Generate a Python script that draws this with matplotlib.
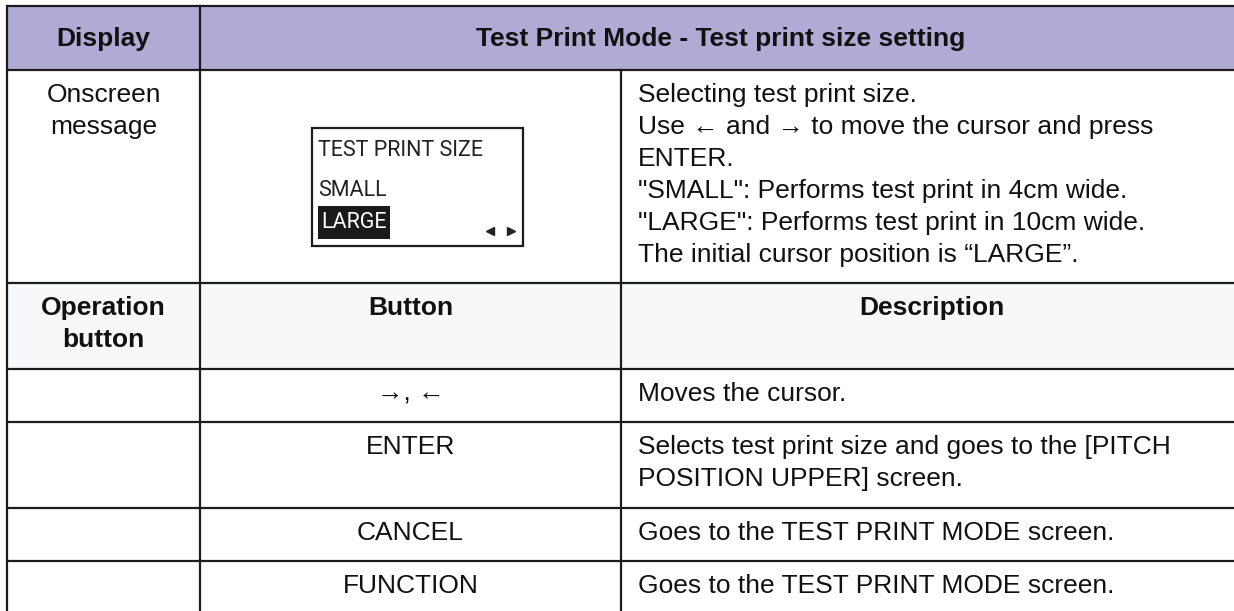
import matplotlib.pyplot as plt
from matplotlib.patches import Rectangle

# table content
header = ['Display', 'Test Print Mode - Test print size setting']
display_label = 'Onscreen\nmessage'
lcd_lines = ['TEST PRINT SIZE', 'SMALL', 'LARGE']
display_desc = ('Selecting test print size.\n'
                'Use \u2190 and \u2192 to move the cursor and press\n'
                'ENTER.\n'
                '"SMALL": Performs test print in 4cm wide.\n'
                '"LARGE": Performs test print in 10cm wide.\n'
                'The initial cursor position is \u201cLARGE\u201d.')
op_header = ['Operation\nbutton', 'Button', 'Description']
buttons = ['\u2192, \u2190', 'ENTER', 'CANCEL', 'FUNCTION']
descriptions = ['Moves the cursor.',
                'Selects test print size and goes to the [PITCH\nPOSITION UPPER] screen.',
                'Goes to the TEST PRINT MODE screen.',
                'Goes to the TEST PRINT MODE screen.']

# layout in pixels
col_x = [7, 200, 621, 1242]
row_y = [6, 70, 283, 369, 422, 508, 561, 615]
line_h = 32
first_off = 25
head_col = '#b0abd5'
sub_col = '#f7f8fa'
edge = '#1c1c1c'
fs = 19

plt.rcParams['font.family'] = ['Liberation Sans', 'DejaVu Sans']

fig = plt.figure(figsize=(12.34, 6.11), dpi=100)
ax = fig.add_axes([0, 0, 1, 1])
ax.set_xlim(0, 1234)
ax.set_ylim(611, 0)
ax.axis('off')

# backgrounds
ax.add_patch(Rectangle((col_x[0], row_y[0]), col_x[3] - col_x[0], row_y[1] - row_y[0],
                       facecolor=head_col, edgecolor='none'))
ax.add_patch(Rectangle((col_x[0], row_y[2]), col_x[3] - col_x[0], row_y[3] - row_y[2],
                       facecolor=sub_col, edgecolor='none'))

# grid lines
lw = 1.6
for y in row_y[:-1]:
    ax.plot([col_x[0], col_x[3]], [y, y], color=edge, lw=lw, solid_capstyle='butt')
ax.plot([col_x[0], col_x[0]], [row_y[0], row_y[-1]], color=edge, lw=lw)
ax.plot([col_x[1], col_x[1]], [row_y[0], row_y[-1]], color=edge, lw=lw)
ax.plot([col_x[2], col_x[2]], [row_y[1], row_y[-1]], color=edge, lw=lw)


def put(x, top, txt, ha='left', bold=False):
    for i, ln in enumerate(txt.split('\n')):
        ax.text(x, top + first_off + i * line_h, ln, ha=ha, va='center',
                fontsize=fs, fontweight='bold' if bold else 'normal', color='#111111')


# header row
ax.text((col_x[0] + col_x[1]) / 2, (row_y[0] + row_y[1]) / 2 + 1, header[0],
        ha='center', va='center', fontsize=fs, fontweight='bold', color='#111111')
ax.text((col_x[1] + col_x[3]) / 2, (row_y[0] + row_y[1]) / 2 + 1, header[1],
        ha='center', va='center', fontsize=fs, fontweight='bold', color='#111111')

# onscreen message row
put((col_x[0] + col_x[1]) / 2, row_y[1], display_label, ha='center')
put(col_x[2] + 17, row_y[1], display_desc)

# LCD mock-up
lcd_font = ['Liberation Sans Narrow', 'Roboto', 'DejaVu Sans']
lcd_fs = 15.5
ax.add_patch(Rectangle((312, 128), 211, 118, facecolor='white', edgecolor=edge, lw=1.6))
ax.text(318, 150, lcd_lines[0], ha='left', va='center', fontsize=lcd_fs,
        family=lcd_font, color='#222222')
ax.text(318, 190, lcd_lines[1], ha='left', va='center', fontsize=lcd_fs,
        family=lcd_font, color='#222222')
ax.add_patch(Rectangle((318, 206), 72, 33, facecolor='#1a1a1a', edgecolor='none'))
ax.text(321, 223, lcd_lines[2], ha='left', va='center', fontsize=lcd_fs,
        family=lcd_font, color='white')
ax.plot([490], [231], marker='<', ms=6, color='#222222', ls='none')
ax.plot([511], [231], marker='>', ms=6, color='#222222', ls='none')

# operation header row
put((col_x[0] + col_x[1]) / 2, row_y[2], op_header[0], ha='center', bold=True)
put((col_x[1] + col_x[2]) / 2, row_y[2], op_header[1], ha='center', bold=True)
put((col_x[2] + col_x[3]) / 2, row_y[2], op_header[2], ha='center', bold=True)

# button rows
for i, (b, d) in enumerate(zip(buttons, descriptions)):
    top = row_y[3 + i]
    put((col_x[1] + col_x[2]) / 2, top, b, ha='center')
    put(col_x[2] + 17, top, d)

fig.savefig('out.png', dpi=100)
